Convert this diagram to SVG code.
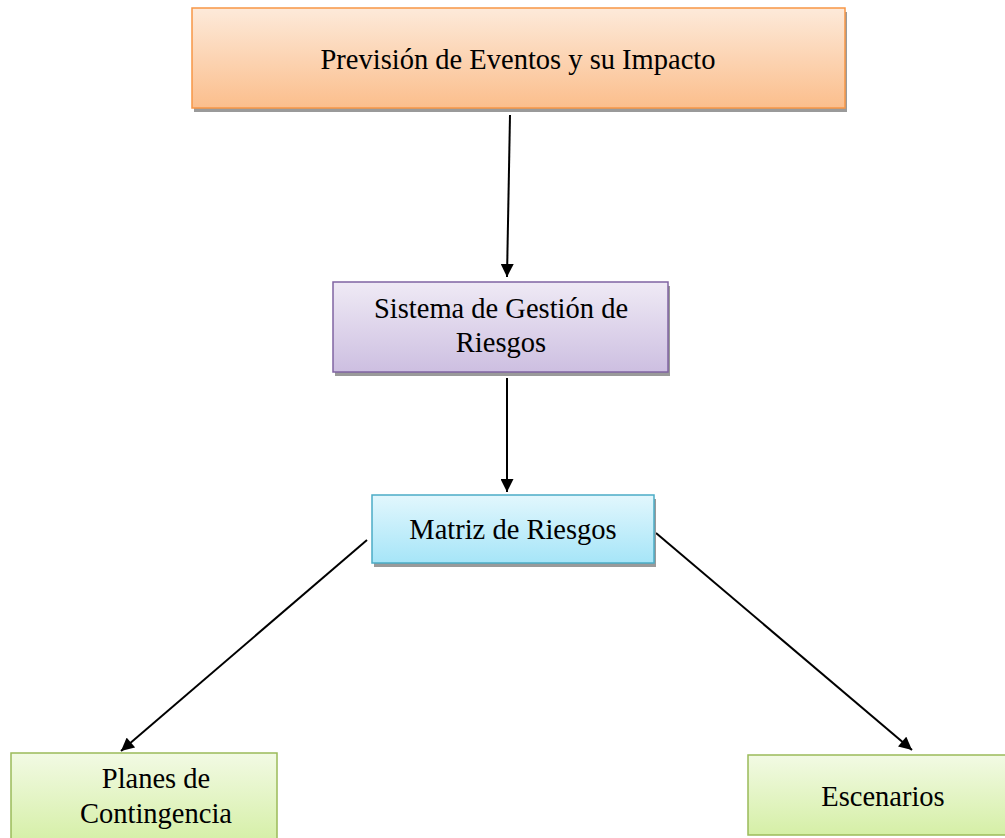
<svg xmlns="http://www.w3.org/2000/svg" width="1005" height="838" viewBox="0 0 1005 838">
<defs>
<linearGradient id="gO" x1="0" y1="0" x2="0" y2="1"><stop offset="0" stop-color="#FDEADA"/><stop offset="1" stop-color="#FBBE8C"/></linearGradient>
<linearGradient id="gP" x1="0" y1="0" x2="0" y2="1"><stop offset="0" stop-color="#EFEAF5"/><stop offset="1" stop-color="#CDBFE1"/></linearGradient>
<linearGradient id="gC" x1="0" y1="0" x2="0" y2="1"><stop offset="0" stop-color="#E2F7FD"/><stop offset="1" stop-color="#A6E5F8"/></linearGradient>
<linearGradient id="gG" x1="0" y1="0" x2="0" y2="1"><stop offset="0" stop-color="#F2FAE4"/><stop offset="1" stop-color="#D5EFA6"/></linearGradient>
<marker id="ah" viewBox="0 0 10 10" refX="10" refY="5" markerWidth="14" markerHeight="13" markerUnits="userSpaceOnUse" orient="auto"><path d="M0,0 L10,5 L0,10 z" fill="#000"/></marker>
</defs>
<style>
.sh{fill:#9a9a9a}
.t{font-family:"Liberation Serif","Times New Roman",serif;font-size:28.5px;fill:#000;text-anchor:middle}
.c{stroke:#000;stroke-width:2;fill:none;marker-end:url(#ah)}
</style>
<g id="connectors">
<line class="c" x1="510" y1="115" x2="507" y2="277"/>
<line class="c" x1="507" y1="378" x2="507" y2="492"/>
<line class="c" x1="367" y1="540" x2="121" y2="751"/>
<line class="c" x1="656" y1="533" x2="912" y2="750"/>
</g>
<g id="n1">
<rect class="sh" x="194" y="12" width="653" height="100"/>
<rect x="192" y="8" width="653" height="100" fill="url(#gO)" stroke="#F79646" stroke-width="1.5"/>
<text class="t" x="518" y="69">Previsión de Eventos y su Impacto</text>
</g>
<g id="n2">
<rect class="sh" x="335" y="286" width="335" height="90"/>
<rect x="333" y="282" width="335" height="90" fill="url(#gP)" stroke="#8064A2" stroke-width="1.5"/>
<text class="t" x="501" y="318">Sistema de Gestión de</text>
<text class="t" x="501" y="352">Riesgos</text>
</g>
<g id="n3">
<rect class="sh" x="374" y="499" width="282" height="68"/>
<rect x="372" y="495" width="282" height="68" fill="url(#gC)" stroke="#4BACC6" stroke-width="1.5"/>
<text class="t" x="513" y="539">Matriz de Riesgos</text>
</g>
<g id="n4">
<rect x="11" y="753" width="266" height="90" fill="url(#gG)" stroke="#9BBB59" stroke-width="1.5"/>
<text class="t" x="156" y="788">Planes de</text>
<text class="t" x="156" y="823">Contingencia</text>
</g>
<g id="n5">
<rect x="748" y="755" width="262" height="80" fill="url(#gG)" stroke="#9BBB59" stroke-width="1.5"/>
<text class="t" x="883" y="806">Escenarios</text>
</g>
</svg>
